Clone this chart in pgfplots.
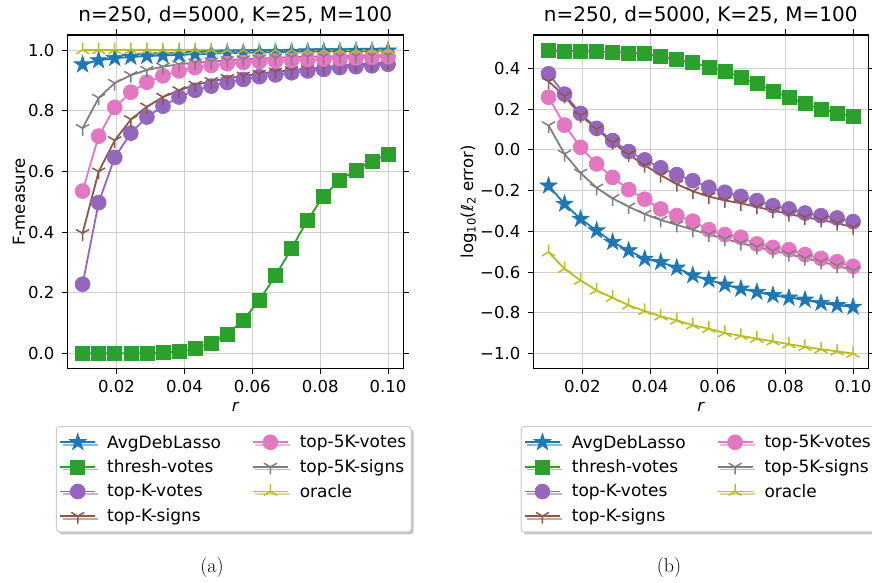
\documentclass[border=0pt]{standalone}
\usepackage{pgfplots}
\pgfplotsset{compat=1.18}
\usepackage{pgfplotstable}
\usepackage{fontspec}
\newfontfamily\dv{DejaVu Sans}
\usetikzlibrary{shadows}

\definecolor{c0}{HTML}{1F77B4}
\definecolor{c2}{HTML}{2CA02C}
\definecolor{c4}{HTML}{9467BD}
\definecolor{c5}{HTML}{8C564B}
\definecolor{c6}{HTML}{E377C2}
\definecolor{c7}{HTML}{7F7F7F}
\definecolor{c8}{HTML}{BCBD22}
\definecolor{gridc}{HTML}{CFCFCF}

\newcommand\legA[1]{\rule{9pt}{0pt}#1\rule{29pt}{0pt}}
\newcommand\legB[1]{\rule{9pt}{0pt}#1}

\pgfdeclareplotmark{fstar}{%
  \pgfpathmoveto{\pgfpoint{0pt}{\pgfplotmarksize}}%
  \pgfpathlineto{\pgfpoint{-0.2245\pgfplotmarksize}{0.3090\pgfplotmarksize}}%
  \pgfpathlineto{\pgfpoint{-0.9511\pgfplotmarksize}{0.3090\pgfplotmarksize}}%
  \pgfpathlineto{\pgfpoint{-0.3633\pgfplotmarksize}{-0.1180\pgfplotmarksize}}%
  \pgfpathlineto{\pgfpoint{-0.5878\pgfplotmarksize}{-0.8090\pgfplotmarksize}}%
  \pgfpathlineto{\pgfpoint{0pt}{-0.382\pgfplotmarksize}}%
  \pgfpathlineto{\pgfpoint{0.5878\pgfplotmarksize}{-0.8090\pgfplotmarksize}}%
  \pgfpathlineto{\pgfpoint{0.3633\pgfplotmarksize}{-0.1180\pgfplotmarksize}}%
  \pgfpathlineto{\pgfpoint{0.9511\pgfplotmarksize}{0.3090\pgfplotmarksize}}%
  \pgfpathlineto{\pgfpoint{0.2245\pgfplotmarksize}{0.3090\pgfplotmarksize}}%
  \pgfpathclose
  \pgfusepathqfillstroke}
\pgfdeclareplotmark{tridown}{%
  \pgfpathmoveto{\pgfpointorigin}\pgfpathlineto{\pgfpoint{0pt}{-\pgfplotmarksize}}%
  \pgfpathmoveto{\pgfpointorigin}\pgfpathlineto{\pgfpoint{0.866\pgfplotmarksize}{0.5\pgfplotmarksize}}%
  \pgfpathmoveto{\pgfpointorigin}\pgfpathlineto{\pgfpoint{-0.866\pgfplotmarksize}{0.5\pgfplotmarksize}}%
  \pgfusepathqstroke}
\pgfdeclareplotmark{triup}{%
  \pgfpathmoveto{\pgfpointorigin}\pgfpathlineto{\pgfpoint{0pt}{\pgfplotmarksize}}%
  \pgfpathmoveto{\pgfpointorigin}\pgfpathlineto{\pgfpoint{0.866\pgfplotmarksize}{-0.5\pgfplotmarksize}}%
  \pgfpathmoveto{\pgfpointorigin}\pgfpathlineto{\pgfpoint{-0.866\pgfplotmarksize}{-0.5\pgfplotmarksize}}%
  \pgfusepathqstroke}

\pgfplotsset{
  sAvg/.style={color=c0, line width=1.8pt, mark=fstar, mark size=9pt, mark options={solid, line width=0.6pt}},
  sThr/.style={color=c2, line width=1.8pt, mark=square*, mark size=7pt, mark options={solid, line width=0.6pt}},
  sTKv/.style={color=c4, line width=1.8pt, mark=*, mark size=7.5pt, mark options={solid, line width=0.6pt}},
  sTKs/.style={color=c5, line width=1.8pt, mark=tridown, mark size=7.5pt, mark options={solid, line width=1.5pt}},
  s5v/.style={color=c6, line width=1.8pt, mark=*, mark size=7.5pt, mark options={solid, line width=0.6pt}},
  s5s/.style={color=c7, line width=1.8pt, mark=tridown, mark size=7.5pt, mark options={solid, line width=1.5pt}},
  sOr/.style={color=c8, line width=1.8pt, mark=triup, mark size=7.5pt, mark options={solid, line width=1.5pt}},
  base/.style={
    scale only axis, height=333.7pt,
    xmin=0.0055, xmax=0.1045,
    xtick={0.02,0.04,0.06,0.08,0.10},
    xticklabels={0.02,0.04,0.06,0.08,0.10},
    tick align=outside, major tick length=5.5pt,
    tick style={black, line width=1pt},
    axis line style={black, line width=1.1pt},
    grid=major, major grid style={gridc, line width=1pt},
    tick label style={font=\dv\fontsize{16.5}{19.8}\selectfont},
    xticklabel style={yshift=-3pt},
    yticklabel style={xshift=-4pt},
    label style={font=\dv\fontsize{16.5}{19.8}\selectfont},
    title style={font=\dv\fontsize{20}{24}\selectfont, at={(0.5,1)}, anchor=base, yshift=7pt},
    title={n=250, d=5000, K=25, M=100},
    xlabel={\itshape r},
    xlabel style={at={(axis description cs:0.5,0)}, anchor=base, yshift=-43pt},
    legend columns=2,
    legend cell align=left,
    legend image code/.code={\draw[mark repeat=2,mark phase=2,##1] plot coordinates {(0pt,0pt) (17.5pt,0pt) (35pt,0pt)};},
    legend style={anchor=north west, font=\dv\fontsize{17}{20.4}\selectfont,
      draw=black!20, line width=1pt, rounded corners=3pt, fill=white,
      drop shadow={shadow xshift=2.5pt, shadow yshift=-2.5pt, fill=black!45},
      inner xsep=3pt, inner ysep=6.5pt, row sep=6.2pt,
      nodes={inner sep=2pt}},
  },
}

\pgfplotstableread{
x blue green purple brown pink gray olive
0.010000 0.952 0.000 0.228 0.396 0.535 0.742 1.000
0.014737 0.966 0.000 0.497 0.599 0.716 0.842 1.000
0.019474 0.973 0.000 0.646 0.702 0.811 0.891 1.000
0.024211 0.977 0.000 0.726 0.771 0.861 0.917 1.000
0.028947 0.980 0.000 0.779 0.813 0.894 0.934 1.000
0.033684 0.982 0.002 0.815 0.845 0.915 0.945 1.000
0.038421 0.984 0.006 0.845 0.867 0.931 0.953 1.000
0.043158 0.986 0.017 0.867 0.885 0.942 0.958 1.000
0.047895 0.988 0.034 0.881 0.897 0.949 0.962 1.000
0.052632 0.990 0.063 0.893 0.907 0.955 0.966 1.000
0.057368 0.991 0.110 0.903 0.915 0.959 0.969 1.000
0.062105 0.992 0.176 0.912 0.921 0.962 0.972 1.000
0.066842 0.993 0.256 0.918 0.928 0.964 0.974 1.000
0.071579 0.994 0.346 0.925 0.933 0.966 0.976 1.000
0.076316 0.995 0.440 0.931 0.939 0.968 0.978 1.000
0.081053 0.996 0.519 0.936 0.943 0.970 0.979 1.000
0.085789 0.996 0.571 0.942 0.948 0.972 0.980 1.000
0.090526 0.997 0.604 0.945 0.952 0.974 0.981 1.000
0.095263 0.997 0.634 0.948 0.956 0.976 0.982 1.000
0.100000 0.998 0.656 0.953 0.960 0.978 0.983 1.000
}\fmeas

\pgfplotstableread{
x blue green purple brown pink gray olive
0.010000 -0.176 0.487 0.374 0.337 0.259 0.120 -0.502
0.014737 -0.265 0.486 0.274 0.265 0.122 -0.020 -0.584
0.019474 -0.339 0.486 0.179 0.170 0.013 -0.113 -0.641
0.024211 -0.396 0.484 0.106 0.103 -0.069 -0.186 -0.690
0.028947 -0.453 0.481 0.046 0.037 -0.135 -0.238 -0.726
0.033684 -0.494 0.477 -0.008 -0.022 -0.195 -0.279 -0.763
0.038421 -0.535 0.474 -0.049 -0.075 -0.242 -0.315 -0.791
0.043158 -0.551 0.458 -0.088 -0.124 -0.290 -0.344 -0.817
0.047895 -0.579 0.444 -0.121 -0.168 -0.322 -0.368 -0.837
0.052632 -0.616 0.428 -0.151 -0.203 -0.350 -0.392 -0.861
0.057368 -0.638 0.408 -0.184 -0.229 -0.392 -0.415 -0.878
0.062105 -0.662 0.387 -0.208 -0.248 -0.416 -0.437 -0.899
0.066842 -0.682 0.356 -0.228 -0.262 -0.429 -0.458 -0.913
0.071579 -0.698 0.326 -0.249 -0.280 -0.462 -0.477 -0.927
0.076316 -0.714 0.290 -0.274 -0.298 -0.479 -0.495 -0.940
0.081053 -0.726 0.257 -0.290 -0.315 -0.490 -0.512 -0.954
0.085789 -0.736 0.227 -0.310 -0.331 -0.514 -0.532 -0.967
0.090526 -0.752 0.202 -0.323 -0.344 -0.533 -0.550 -0.979
0.095263 -0.763 0.181 -0.334 -0.360 -0.549 -0.568 -0.989
0.100000 -0.771 0.165 -0.352 -0.380 -0.572 -0.592 -1.000
}\lerr

\begin{document}
\begin{tikzpicture}[x=1pt,y=1pt]
\fill[white] (0,0) rectangle (872,582);
\path[use as bounding box] (0,0) rectangle (872,582);

\begin{axis}[base, at={(533.3pt,213.3pt)}, anchor=south west, width=335pt,
  ymin=-1.0745, ymax=0.5645,
  ytick={-1.0,-0.8,-0.6,-0.4,-0.2,0,0.2,0.4},
  yticklabels={−1.0,−0.8,−0.6,−0.4,−0.2,0.0,0.2,0.4},
  ylabel={log\textsubscript{10}(ℓ\textsubscript{2} error)},
  ylabel style={at={(axis description cs:-0.18,0.5)}, anchor=base, rotate=0},
  legend style={at={(-0.038,-0.172)}},
]
\addplot[sAvg, forget plot] table[x=x,y=blue] {\lerr};
\addplot[sThr, forget plot] table[x=x,y=green] {\lerr};
\addplot[sTKv, forget plot] table[x=x,y=purple] {\lerr};
\addplot[sTKs, forget plot] table[x=x,y=brown] {\lerr};
\addplot[s5v, forget plot] table[x=x,y=pink] {\lerr};
\addplot[s5s, forget plot] table[x=x,y=gray] {\lerr};
\addplot[sOr, forget plot] table[x=x,y=olive] {\lerr};
\addlegendimage{sAvg}\addlegendentry{\legA{AvgDebLasso}}
\addlegendimage{s5v}\addlegendentry{\legB{top-5K-votes}}
\addlegendimage{sThr}\addlegendentry{\legA{thresh-votes}}
\addlegendimage{s5s}\addlegendentry{\legB{top-5K-signs}}
\addlegendimage{sTKv}\addlegendentry{\legA{top-K-votes}}
\addlegendimage{sOr}\addlegendentry{\legB{oracle}}
\addlegendimage{sTKs}\addlegendentry{\legA{top-K-signs}}
\end{axis}

\begin{axis}[base, at={(67.3pt,213.3pt)}, anchor=south west, width=336pt,
  ymin=-0.0505, ymax=1.0495,
  ytick={0,0.2,0.4,0.6,0.8,1.0},
  yticklabels={0.0,0.2,0.4,0.6,0.8,1.0},
  ylabel={F-measure},
  ylabel style={at={(axis description cs:-0.126,0.5)}, anchor=base, rotate=0},
  legend style={at={(-0.034,-0.172)}},
]
\addplot[sAvg, forget plot] table[x=x,y=blue] {\fmeas};
\addplot[sThr, forget plot] table[x=x,y=green] {\fmeas};
\addplot[sTKv, forget plot] table[x=x,y=purple] {\fmeas};
\addplot[sTKs, forget plot] table[x=x,y=brown] {\fmeas};
\addplot[s5v, forget plot] table[x=x,y=pink] {\fmeas};
\addplot[s5s, forget plot] table[x=x,y=gray] {\fmeas};
\addplot[sOr, forget plot] table[x=x,y=olive] {\fmeas};
\addlegendimage{sAvg}\addlegendentry{\legA{AvgDebLasso}}
\addlegendimage{s5v}\addlegendentry{\legB{top-5K-votes}}
\addlegendimage{sThr}\addlegendentry{\legA{thresh-votes}}
\addlegendimage{s5s}\addlegendentry{\legB{top-5K-signs}}
\addlegendimage{sTKv}\addlegendentry{\legA{top-K-votes}}
\addlegendimage{sOr}\addlegendentry{\legB{oracle}}
\addlegendimage{sTKs}\addlegendentry{\legA{top-K-signs}}
\end{axis}

\node[anchor=base, font=\rmfamily\fontsize{20}{24}\selectfont] at (212,10) {(a)};
\node[anchor=base, font=\rmfamily\fontsize{20}{24}\selectfont] at (669,10) {(b)};
\end{tikzpicture}
\end{document}
